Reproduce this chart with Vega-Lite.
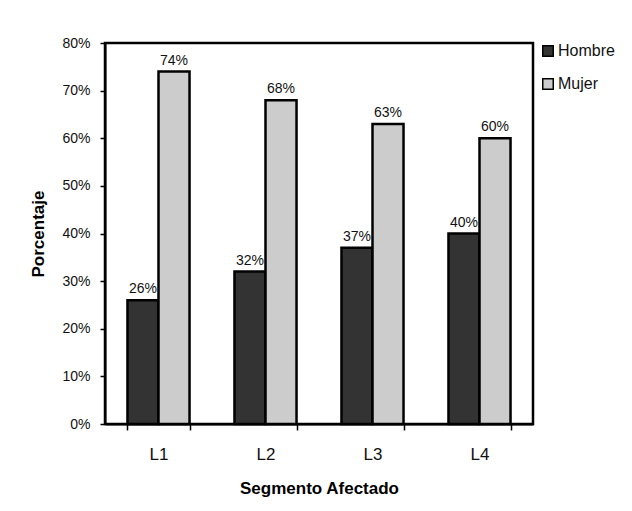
{
  "$schema": "https://vega.github.io/schema/vega-lite/v6.json",
  "width": 428,
  "height": 381,
  "autosize": "none",
  "padding": {"left": 105, "top": 43, "right": 99, "bottom": 87},
  "background": "white",
  "data": {
    "values": [
      {"segmento": "L1", "sexo": "Hombre", "valor": 0.26},
      {"segmento": "L1", "sexo": "Mujer", "valor": 0.74},
      {"segmento": "L2", "sexo": "Hombre", "valor": 0.32},
      {"segmento": "L2", "sexo": "Mujer", "valor": 0.68},
      {"segmento": "L3", "sexo": "Hombre", "valor": 0.37},
      {"segmento": "L3", "sexo": "Mujer", "valor": 0.63},
      {"segmento": "L4", "sexo": "Hombre", "valor": 0.40},
      {"segmento": "L4", "sexo": "Mujer", "valor": 0.60}
    ]
  },
  "encoding": {
    "x": {
      "field": "segmento",
      "type": "nominal",
      "scale": {"paddingInner": 0.42, "paddingOuter": 0.21},
      "axis": {
        "title": "Segmento Afectado",
        "labelAngle": 0,
        "tickBand": "extent",
        "tickSize": 6,
        "tickWidth": 1.5,
        "tickColor": "black",
        "domainColor": "black",
        "domainWidth": 2,
        "labelFont": "Liberation Sans",
        "labelFontSize": 17,
        "labelColor": "#111111",
        "labelPadding": 16,
        "titleFont": "Liberation Sans",
        "titleFontSize": 17,
        "titleFontWeight": "bold",
        "titleColor": "black",
        "titleBaseline": "middle",
        "titleY": 64
      }
    },
    "xOffset": {"field": "sexo", "type": "nominal", "scale": {"domain": ["Hombre", "Mujer"], "paddingInner": 0, "paddingOuter": 0}},
    "y": {
      "field": "valor",
      "type": "quantitative",
      "scale": {"domain": [0, 0.8], "nice": false},
      "axis": {
        "title": "Porcentaje",
        "values": [0, 0.1, 0.2, 0.3, 0.4, 0.5, 0.6, 0.7, 0.8],
        "format": ".0%",
        "grid": false,
        "tickSize": 5,
        "tickWidth": 1.5,
        "tickColor": "black",
        "domainColor": "black",
        "domainWidth": 2,
        "labelFont": "Liberation Sans",
        "labelFontSize": 14,
        "labelColor": "#111111",
        "labelPadding": 10,
        "titleFont": "Liberation Sans",
        "titleFontSize": 17,
        "titleFontWeight": "bold",
        "titleColor": "black",
        "titleBaseline": "middle",
        "titleX": -67
      }
    }
  },
  "layer": [
    {
      "mark": {"type": "bar", "stroke": "black", "strokeWidth": 2.5, "opacity": 1},
      "encoding": {
        "color": {
          "field": "sexo",
          "type": "nominal",
          "scale": {"domain": ["Hombre", "Mujer"], "range": ["#333333", "#cccccc"]},
          "legend": {
            "title": null,
            "orient": "right",
            "offset": 7,
            "padding": 0,
            "symbolType": "square",
            "symbolSize": 110,
            "symbolStrokeColor": "black",
            "symbolStrokeWidth": 1.5,
            "symbolOpacity": 1,
            "labelFont": "Liberation Sans",
            "labelFontSize": 16,
            "labelColor": "#111111",
            "labelOffset": 2,
            "rowPadding": 15
          }
        }
      }
    },
    {
      "mark": {"type": "text", "baseline": "bottom", "dy": -4, "font": "Liberation Sans", "fontSize": 14, "color": "#111111"},
      "encoding": {
        "text": {"field": "valor", "type": "quantitative", "format": ".0%"}
      }
    }
  ],
  "config": {
    "view": {"stroke": "black", "strokeWidth": 2.5}
  }
}
